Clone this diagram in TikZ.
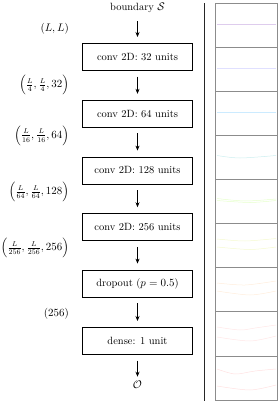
\documentclass[tikz,border=0pt]{standalone}
\usepackage{amsmath}
\usetikzlibrary{arrows.meta}
\begin{document}
\begin{tikzpicture}[x=1pt,y=-1pt,
  every node/.style={font=\fontsize{10.5}{13}\selectfont},
  layerbox/.style={draw, line width=0.6pt, minimum width=110pt, minimum height=27pt, inner sep=0pt},
  flow/.style={-{Stealth[length=5pt,width=4pt]}, line width=0.6pt},
  dimlabel/.style={anchor=east, inner sep=0pt},
  panelbox/.style={draw=black!45, line width=0.9pt},
  wave/.style={line width=0.5pt, opacity=0.2}]
\useasboundingbox (0,0) rectangle (280,405);
% input / output
\node (in) at (137.5,8) {boundary $\mathcal{S}$};
\node (c1) [layerbox] at (137.5,56.8) {conv 2D: 32 units};
\node (c2) [layerbox] at (137.5,113.6) {conv 2D: 64 units};
\node (c3) [layerbox] at (137.5,170.4) {conv 2D: 128 units};
\node (c4) [layerbox] at (137.5,227) {conv 2D: 256 units};
\node (dr) [layerbox] at (137.5,283.4) {dropout ($p=0.5$)};
\node (de) [layerbox] at (137.5,340.8) {dense: 1 unit};
\node (out) at (137.5,385) {$\mathcal{O}$};
% arrows
\draw[flow] ([yshift=-5pt]in.south) -- ([yshift=6pt]c1.north);
\draw[flow] ([yshift=-6pt]c1.south) -- ([yshift=6pt]c2.north);
\draw[flow] ([yshift=-6pt]c2.south) -- ([yshift=6pt]c3.north);
\draw[flow] ([yshift=-6pt]c3.south) -- ([yshift=6pt]c4.north);
\draw[flow] ([yshift=-6pt]c4.south) -- ([yshift=6pt]dr.north);
\draw[flow] ([yshift=-6pt]dr.south) -- ([yshift=6pt]de.north);
\draw[flow] ([yshift=-6pt]de.south) -- ([yshift=1pt]out.north);
% shape labels
\node (s0) [dimlabel] at (69,29) {$(L,L)$};
\node (s1) [dimlabel] at (69,85) {$\Bigl(\frac{L}{4},\frac{L}{4},32\Bigr)$};
\node (s2) [dimlabel] at (69,135.5) {$\Bigl(\frac{L}{16},\frac{L}{16},64\Bigr)$};
\node (s3) [dimlabel] at (69,192) {$\Bigl(\frac{L}{64},\frac{L}{64},128\Bigr)$};
\node (s4) [dimlabel] at (69,248) {$\Bigl(\frac{L}{256},\frac{L}{256},256\Bigr)$};
\node (s5) [dimlabel] at (69,313.5) {$(256)$};
% separator
\draw[line width=1.5pt, black!85] (204.5,3) -- (204.5,401);
% frames
\foreach \k in {0,...,8}{
  \draw[panelbox] (215.8,{3+44.125*\k}) rectangle (277.2,{3+44.125*(\k+1)});
}
% faint curves
\draw[wave, violet!70!blue] (217,24.3) -- (276,24.3);
\draw[wave, blue!60] (217,68) -- (276,68);
\draw[wave, blue!40!cyan] (217,112) -- (276,112);
\draw[wave, cyan!60!green] plot[smooth] coordinates {(217,155.5) (240,158) (276,155.5)};
\draw[wave, green!50!yellow] plot[smooth] coordinates {(217,198.5) (245,201) (276,199)};
\draw[wave, green!50!yellow] plot[smooth] coordinates {(217,200.5) (250,202.5) (276,200.5)};
\draw[wave, yellow!80!green] plot[smooth] coordinates {(217,239) (245,241) (276,238.5)};
\draw[wave, yellow!80!green] plot[smooth] coordinates {(217,247) (250,249.5) (276,247)};
\draw[wave, orange!70] plot[smooth] coordinates {(217,283) (245,285) (276,281)};
\draw[wave, orange!70] plot[smooth] coordinates {(217,291) (250,295) (276,291)};
\draw[wave, red!50] plot[smooth] coordinates {(217,327) (240,330) (255,328) (276,325)};
\draw[wave, red!50] plot[smooth] coordinates {(217,337) (250,341) (276,336)};
\draw[wave, red!60] plot[smooth] coordinates {(217,369) (235,374) (255,371) (276,369)};
\draw[wave, red!60] plot[smooth] coordinates {(217,386) (250,390) (276,385)};
\end{tikzpicture}
\end{document}
